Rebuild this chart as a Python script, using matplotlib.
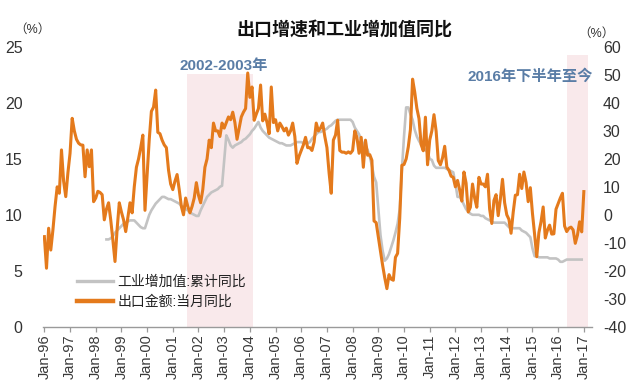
import matplotlib
matplotlib.use('Agg')
import matplotlib.pyplot as plt
from matplotlib.lines import Line2D
import numpy as np

# ---------------- data ----------------
# 出口金额:当月同比 (right axis, %), monthly Jan-1996 .. Jan-2017
export_yoy = [
    # 1996
    -7.8, -19.1, -4.8, -12.6, -5.4, 3.0, 10.0, 7.7, 23.2, 12.0, 6.5, 15.0,
    # 1997
    22.0, 34.5, 30.0, 27.0, 25.6, 25.0, 24.9, 13.6, 23.2, 17.2, 23.2, 4.7,
    # 1998
    6.0, 8.4, 8.0, 7.2, -1.8, 2.0, 4.3, -1.8, -9.0, -16.7, -5.0, 4.3,
    # 1999
    1.0, -1.8, -6.0, -1.0, 4.3, 0.7, 10.0, 17.0, 20.0, 24.0, 28.5, 1.6,
    # 2000
    14.0, 27.0, 37.0, 38.5, 44.6, 29.5, 29.0, 26.7, 25.0, 24.0, 16.0, 11.0,
    # 2001
    9.0, 12.0, 14.4, 9.0, 3.0, 0.0, 6.0, 3.0, 0.7, 3.0, 6.0, 11.5,
    # 2002
    7.0, 4.3, 9.0, 17.0, 20.0, 26.7, 24.0, 32.8, 30.0, 30.0, 28.0, 32.8,
    # 2003
    31.0, 33.0, 35.0, 34.0, 36.7, 33.0, 27.0, 31.0, 35.0, 36.7, 38.0, 50.7,
    # 2004
    42.0, 45.7, 33.8, 36.0, 38.0, 46.4, 33.6, 36.0, 33.0, 29.0, 45.7, 33.0,
    # 2005
    34.0, 30.0, 32.8, 31.5, 30.0, 31.0, 28.5, 30.0, 32.8, 28.0, 18.4, 21.0,
    # 2006
    23.0, 25.0, 27.7, 24.0, 24.0, 23.0, 26.0, 32.8, 30.0, 31.0, 32.8, 28.0,
    # 2007
    24.0, 15.0, 7.7, 26.7, 28.5, 33.8, 23.0, 22.4, 22.4, 22.0, 22.5, 22.0,
    # 2008
    23.0, 30.0, 27.7, 22.0, 27.7, 17.0, 26.7, 21.3, 21.5, 19.5, -2.2, -2.8,
    # 2009
    -8.0, -13.0, -18.0, -22.5, -26.4, -21.4, -23.0, -23.4, -15.2, -13.8, -1.2, 17.7,
    # 2010
    18.0, 20.0, 24.3, 30.5, 48.5, 43.9, 38.1, 34.4, 25.1, 22.9, 34.9, 17.9,
    # 2011
    26.7, 30.0, 35.8, 29.9, 19.4, 17.9, 20.4, 24.5, 17.1, 15.9, 13.8, 13.4,
    # 2012
    10.0, 12.3, 8.9, 4.9, 15.3, 11.3, 1.0, 2.7, 11.0, 6.0, 2.7, 13.4,
    # 2013
    11.0, 11.0, 10.0, 14.5, 2.0, -3.1, 5.1, 7.2, -0.3, 5.6, 12.7, 4.3,
    # 2014
    0.0, -1.6, -6.6, 0.9, 7.0, 7.2, 14.5, 9.4, 15.3, 11.6, 4.7, 9.7,
    # 2015
    0.5, -7.0, -15.0, -6.4, -2.5, 2.8, -8.3, -5.5, -3.7, -6.9, -6.8, 2.0,
    # 2016
    4.0, 6.0, 7.7, -4.0, -6.0, -4.8, -4.4, -5.4, -10.2, -7.3, -2.5, -6.1,
    # 2017
    8.3,
]
export_start = (1996, 1)

# 工业增加值:累计同比 (left axis, %), monthly Jun-1998 .. Dec-2016
iva_cum = [
    # 1998 Jun-Dec
    7.8, 7.8, 7.9, 8.1, 8.4, 8.6, 8.8,
    # 1999
    9.0, 9.2, 9.3, 9.4, 9.5, 9.5, 9.5, 9.3, 9.1, 8.9, 8.8, 8.8,
    # 2000
    9.4, 10.0, 10.4, 10.7, 11.0, 11.2, 11.4, 11.6, 11.6, 11.5, 11.4, 11.4,
    # 2001
    11.3, 11.2, 11.1, 11.0, 10.8, 10.7, 10.5, 10.4, 10.2, 10.1, 10.0, 9.9,
    # 2002
    9.9, 10.4, 10.8, 11.2, 11.6, 11.8, 12.0, 12.1, 12.2, 12.3, 12.5, 12.6,
    # 2003
    14.8, 17.1, 16.7, 16.2, 16.0, 16.2, 16.3, 16.4, 16.5, 16.7, 16.8, 17.0,
    # 2004
    17.2, 17.5, 17.7, 18.0, 18.3, 17.8, 17.5, 17.3, 17.1, 16.9, 16.8, 16.7,
    # 2005
    16.6, 16.5, 16.4, 16.4, 16.3, 16.2, 16.2, 16.2, 16.3, 16.4, 16.5, 16.5,
    # 2006
    16.5, 16.4, 16.4, 16.4, 16.5, 16.8, 17.0, 17.2, 17.4, 17.4, 17.5, 17.6,
    # 2007
    17.7, 17.9, 18.0, 18.2, 18.4, 18.5, 18.5, 18.5, 18.5, 18.5, 18.5, 18.5,
    # 2008
    18.3, 17.8, 17.5, 17.2, 16.7, 16.3, 16.1, 15.8, 15.2, 14.4, 13.4, 12.9,
    # 2009
    10.5, 8.2, 6.8, 5.9, 6.1, 6.5, 7.1, 7.7, 8.4, 9.2, 10.5, 14.0,
    # 2010
    17.0, 19.6, 19.6, 19.0, 18.5, 17.6, 17.0, 16.6, 16.3, 16.0, 15.8, 15.6,
    # 2011
    15.0, 14.9, 14.4, 14.2, 14.2, 14.2, 14.2, 14.2, 14.1, 14.0, 13.9, 13.8,
    # 2012
    12.8, 11.6, 11.6, 11.3, 10.9, 10.5, 10.3, 10.1, 10.0, 10.0, 10.0, 10.0,
    # 2013
    9.9, 9.9, 9.7, 9.6, 9.5, 9.4, 9.3, 9.3, 9.3, 9.3, 9.3, 9.3,
    # 2014
    9.1, 8.9, 8.8, 8.8, 8.8, 8.8, 8.8, 8.6, 8.5, 8.4, 8.2, 8.0,
    # 2015
    7.0, 6.3, 6.3, 6.2, 6.2, 6.2, 6.2, 6.2, 6.1, 6.1, 6.1, 6.1,
    # 2016
    6.0, 5.8, 5.8, 5.9, 6.0, 6.0, 6.0, 6.0, 6.0, 6.0, 6.0, 6.0,
]
iva_start = (1998, 6)

tick_years = list(range(1996, 2018))
tick_labels = ["Jan-96", "Jan-97", "Jan-98", "Jan-99", "Jan-00", "Jan-01",
               "Jan-02", "Jan-03", "Jan-04", "Jan-05", "Jan-06", "Jan-07",
               "Jan-08", "Jan-09", "Jan-10", "Jan-11", "Jan-12", "Jan-13",
               "Jan-14", "Jan-15", "Jan-16", "Jan-17"]
left_ticks = [0, 5, 10, 15, 20, 25]
right_ticks = [-40, -30, -20, -10, 0, 10, 20, 30, 40, 50, 60]

shade_periods = [(2001.54, 2004.13), (2016.34, 2017.16)]
shade_labels = ["2002-2003年", "2016年下半年至今"]

title = "出口增速和工业增加值同比"
iva_name = "工业增加值:累计同比"
export_name = "出口金额:当月同比"

# ---------------- plotting ----------------
plt.rcParams['font.family'] = ['Liberation Sans', 'Noto Sans CJK SC']

def month_axis(start, n):
    y0, m0 = start
    return y0 + (m0 - 1) / 12.0 + np.arange(n) / 12.0

x_exp = month_axis(export_start, len(export_yoy))
x_iva = month_axis(iva_start, len(iva_cum))

fig = plt.figure(figsize=(6.4, 3.91), dpi=100)
ax = fig.add_axes([0.0677, 0.1645, 0.857, 0.7153])
ax2 = ax.twinx()

shade_col = '#f9e9eb'
ax.axvspan(shade_periods[0][0], shade_periods[0][1], ymin=0, ymax=0.905,
           color=shade_col, lw=0, zorder=0)
ax.axvspan(shade_periods[1][0], shade_periods[1][1], ymin=0, ymax=0.97,
           color=shade_col, lw=0, zorder=0)

gray_col = '#c3c3c3'
orange_col = '#e47a1c'
ax.plot(x_iva, iva_cum, color=gray_col, lw=1.9, zorder=2, solid_joinstyle='round')
ax2.plot(x_exp, export_yoy, color=orange_col, lw=2.2, zorder=3, solid_joinstyle='round')

ax.set_xlim(1995.96, 2017.31)
ax.set_ylim(0, 25)
ax2.set_ylim(-40, 60)

ax.set_yticks(left_ticks)
ax.set_yticklabels([str(v) for v in left_ticks])
ax2.set_yticks(right_ticks)
ax2.set_yticklabels([str(v) for v in right_ticks])
ax.set_xticks(tick_years)
ax.set_xticklabels(tick_labels, rotation=90)

for a in (ax, ax2):
    for s in ('top', 'left', 'right'):
        a.spines[s].set_visible(False)
    a.spines['bottom'].set_color('#9a9a9a')
    a.spines['bottom'].set_linewidth(1.0)
ax2.spines['bottom'].set_visible(False)

ax.tick_params(axis='y', length=0, pad=15, labelsize=11.5, labelcolor='#333333')
ax2.tick_params(axis='y', length=0, pad=8, labelsize=11.5, labelcolor='#333333')
ax.tick_params(axis='x', length=3.5, width=0.9, color='#9a9a9a', pad=2,
               labelsize=10.5, labelcolor='#3a3a3a')

label_col = '#5a7da6'
fig.text(224 / 640, 1 - 66 / 391, shade_labels[0], ha='center', va='center',
         fontsize=11, fontweight='bold', color=label_col)
fig.text(530.5 / 640, 1 - 77 / 391, shade_labels[1], ha='center', va='center',
         fontsize=11, fontweight='bold', color=label_col)

fig.text(344 / 640, 1 - 30 / 391, title, ha='center', va='center',
         fontsize=13, fontweight='bold', color='#111111')
fig.text(32 / 640, 1 - 30 / 391, "（%）", ha='center', va='center',
         fontsize=9, color='#333333')
fig.text(596 / 640, 1 - 34 / 391, "（%）", ha='center', va='center',
         fontsize=9, color='#333333')

handles = [Line2D([], [], color=gray_col, lw=2.4),
           Line2D([], [], color=orange_col, lw=3.2)]
leg = ax2.legend(handles, [iva_name, export_name], loc='upper left',
                 bbox_to_anchor=(0.062, 0.185), frameon=False, fontsize=10,
                 handlelength=2.6, handletextpad=0.3, labelspacing=0.45,
                 borderpad=0, borderaxespad=0)
for t in leg.get_texts():
    t.set_color('#222222')

fig.savefig('out.png', dpi=100)
